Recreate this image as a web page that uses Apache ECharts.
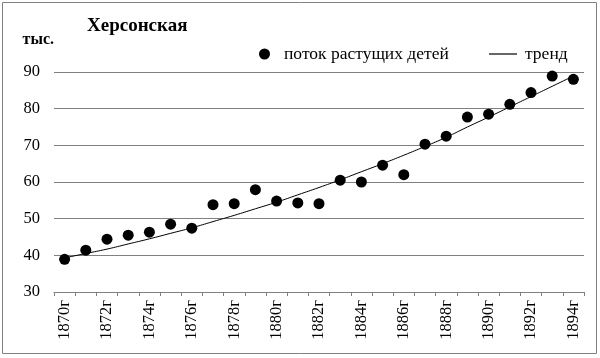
<!DOCTYPE html>
<html><head><meta charset="utf-8">
<script src="https://cdn.jsdelivr.net/npm/echarts@6/dist/echarts.min.js"></script>
<style>html,body{margin:0;padding:0;background:#fff}#c{width:600px;height:358px}</style>
</head><body><div id="c"></div>
<script>
const years = ['1870г','1871г','1872г','1873г','1874г','1875г','1876г','1877г','1878г','1879г','1880г','1881г','1882г','1883г','1884г','1885г','1886г','1887г','1888г','1889г','1890г','1891г','1892г','1893г','1894г'];
const flow = [38.9,41.4,44.4,45.5,46.3,48.5,47.4,53.8,54.1,57.9,54.8,54.3,54.1,60.5,60.0,64.6,62.0,70.3,72.5,77.7,78.5,81.2,84.4,88.9,88.0];
const trend = [39.3,40.5,41.7,43.1,44.5,46.0,47.5,49.2,50.9,52.7,54.5,56.5,58.5,60.6,62.8,65.0,67.3,69.7,72.2,75.0,77.7,80.5,83.3,86.1,88.9];
const yTicks = {min:30, max:90, step:10};
const serif = 'Liberation Serif';
const chart = echarts.init(document.getElementById('c'));
chart.setOption({
  animation:false,
  backgroundColor:'#fff',
  title:{text:'Херсонская', left:82, top:12, textStyle:{fontFamily:serif, fontSize:19, fontWeight:'bold', color:'#000'}},
  legend:[
    {data:[{name:'поток растущих детей', icon:'circle'}], left:254, top:40, itemWidth:11, itemHeight:11,
     textStyle:{fontFamily:serif, fontSize:17.5, color:'#000', padding:[0,0,0,9]}},
    {data:[{name:'тренд', icon:'rect'}], left:484, top:40, itemWidth:28, itemHeight:1.2,
     itemStyle:{color:'#000'},
     textStyle:{fontFamily:serif, fontSize:17.5, color:'#000', padding:[0,0,0,3]}}
  ],
  grid:{left:54, right:16, top:72, bottom:66},
  xAxis:{type:'category', data:years, boundaryGap:true,
    axisLine:{lineStyle:{color:'#808080', width:1}},
    axisTick:{show:true, interval:0, length:4, lineStyle:{color:'#808080'}},
    axisLabel:{interval:1, rotate:90, margin:8, fontFamily:serif, fontSize:16.5, color:'#000'}},
  yAxis:{type:'value', min:yTicks.min, max:yTicks.max, interval:yTicks.step,
    name:'тыс.', nameLocation:'end', nameGap:24,
    nameTextStyle:{fontFamily:serif, fontSize:16, fontWeight:'bold', color:'#000', align:'right', padding:[0,0,0,0]},
    axisLine:{show:false}, axisTick:{show:false},
    axisLabel:{margin:14, fontFamily:serif, fontSize:16.5, color:'#000'},
    splitLine:{lineStyle:{color:'#808080', width:1}}},
  series:[
    {name:'поток растущих детей', type:'scatter', data:flow, symbol:'circle', symbolSize:11, itemStyle:{color:'#000', opacity:1}, z:3},
    {name:'тренд', type:'line', data:trend, smooth:true, symbol:'none', lineStyle:{color:'#000', width:1}, itemStyle:{color:'#000'}, z:2}
  ],
  graphic:[{type:'rect', shape:{x:2.5, y:2.5, width:594, height:351}, style:{fill:'none', stroke:'#808080', lineWidth:1}, silent:true}]
});
</script></body></html>
